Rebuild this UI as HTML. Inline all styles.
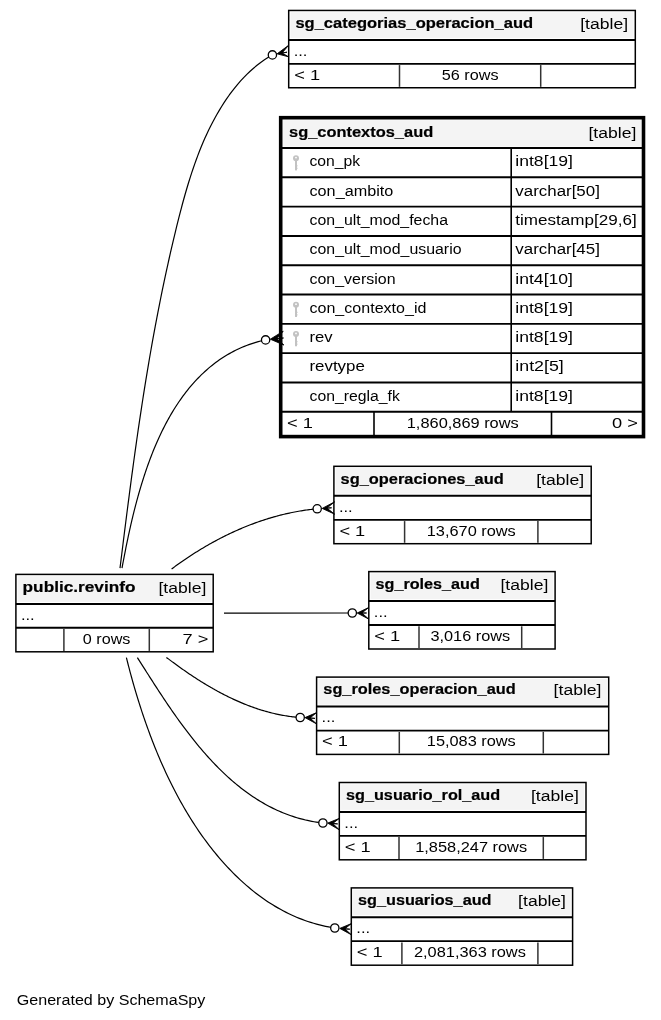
<!DOCTYPE html>
<html><head><meta charset="utf-8"><style>
html,body{margin:0;padding:0;background:#fff;width:661px;height:1020px;overflow:hidden}
svg{display:block;will-change:transform}
text{font-family:"Liberation Sans",sans-serif;font-size:15.5px;fill:#000}
</style></head><body>
<svg width="661" height="1020" viewBox="0 0 661 1020">
<rect width="661" height="1020" fill="#fff"/>
<path d="M120.00,568.10 L120.58,563.47 L121.15,558.84 L121.73,554.22 L122.30,549.60 L122.88,544.98 L123.45,540.37 L124.03,535.77 L124.61,531.16 L125.19,526.57 L125.77,521.97 L126.36,517.38 L126.94,512.79 L127.53,508.21 L128.12,503.63 L128.72,499.05 L129.31,494.47 L129.91,489.90 L130.52,485.33 L131.12,480.77 L131.73,476.20 L132.35,471.64 L132.97,467.09 L133.59,462.53 L134.21,457.98 L134.85,453.43 L135.48,448.88 L136.12,444.34 L136.77,439.79 L137.42,435.25 L138.08,430.71 L138.74,426.18 L139.41,421.64 L140.09,417.11 L140.77,412.57 L141.46,408.04 L142.15,403.51 L142.85,398.98 L143.56,394.46 L144.28,389.93 L145.00,385.41 L145.73,380.88 L146.47,376.36 L147.22,371.84 L147.98,367.31 L148.74,362.79 L149.51,358.27 L150.29,353.75 L151.08,349.23 L151.88,344.71 L152.69,340.19 L153.51,335.67 L154.34,331.15 L155.18,326.63 L156.03,322.11 L156.89,317.59 L157.76,313.07 L158.64,308.55 L159.53,304.03 L160.43,299.50 L161.35,294.98 L162.27,290.46 L163.21,285.93 L164.16,281.40 L165.12,276.88 L166.09,272.35 L167.08,267.82 L168.08,263.29 L169.09,258.75 L170.12,254.22 L171.15,249.68 L172.21,245.14 L173.27,240.60 L174.35,236.06 L175.44,231.52 L176.55,226.97 L177.67,222.42 L178.81,217.88 L179.97,213.33 L181.16,208.79 L182.36,204.26 L183.60,199.74 L184.86,195.22 L186.15,190.72 L187.48,186.24 L188.84,181.76 L190.23,177.31 L191.67,172.88 L193.15,168.47 L194.67,164.08 L196.24,159.72 L197.86,155.39 L199.52,151.08 L201.24,146.81 L203.01,142.57 L204.84,138.36 L206.73,134.20 L208.68,130.07 L210.69,125.98 L212.77,121.94 L214.92,117.94 L217.13,113.98 L219.42,110.08 L221.78,106.22 L224.22,102.42 L226.73,98.68 L229.33,94.98 L232.01,91.36 L234.78,87.80 L237.64,84.31 L240.60,80.91 L243.67,77.59 L246.84,74.37 L250.12,71.24 L253.52,68.22 L257.03,65.31 L260.68,62.51 L264.45,59.84 L268.35,57.30 L272.40,54.89" fill="none" stroke="#000" stroke-width="1.2" stroke-linejoin="round"/>
<circle cx="272.40" cy="54.90" r="4.15" fill="#fff" stroke="#000" stroke-width="1.3"/>
<polygon points="277.10,53.85 288.60,45.30 282.05,53.03 287.00,52.20 282.05,53.03 288.60,56.80" fill="#000" stroke="#000" stroke-width="0.9" stroke-linejoin="miter"/>
<path d="M122.00,568.10 L122.41,565.91 L122.82,563.71 L123.24,561.50 L123.66,559.27 L124.09,557.04 L124.52,554.79 L124.97,552.53 L125.42,550.26 L125.87,547.98 L126.33,545.69 L126.80,543.39 L127.28,541.08 L127.77,538.76 L128.26,536.44 L128.76,534.11 L129.27,531.77 L129.79,529.42 L130.32,527.07 L130.86,524.71 L131.40,522.35 L131.96,519.98 L132.52,517.61 L133.10,515.23 L133.68,512.86 L134.28,510.47 L134.88,508.09 L135.50,505.70 L136.12,503.32 L136.76,500.93 L137.41,498.54 L138.07,496.15 L138.74,493.76 L139.43,491.37 L140.12,488.98 L140.83,486.60 L141.55,484.21 L142.29,481.83 L143.04,479.46 L143.80,477.08 L144.57,474.71 L145.36,472.35 L146.16,469.99 L146.97,467.63 L147.80,465.28 L148.64,462.94 L149.50,460.60 L150.38,458.27 L151.26,455.95 L152.17,453.64 L153.09,451.33 L154.02,449.04 L154.97,446.75 L155.94,444.48 L156.92,442.21 L157.92,439.96 L158.93,437.71 L159.97,435.48 L161.02,433.26 L162.08,431.06 L163.17,428.86 L164.27,426.68 L165.39,424.52 L166.53,422.37 L167.69,420.23 L168.86,418.11 L170.06,416.01 L171.27,413.92 L172.50,411.85 L173.76,409.79 L175.03,407.76 L176.32,405.74 L177.63,403.74 L178.96,401.76 L180.32,399.80 L181.69,397.86 L183.08,395.94 L184.50,394.04 L185.93,392.17 L187.39,390.31 L188.87,388.48 L190.37,386.67 L191.90,384.88 L193.44,383.12 L195.01,381.38 L196.60,379.67 L198.21,377.98 L199.85,376.32 L201.51,374.68 L203.20,373.07 L204.90,371.49 L206.64,369.93 L208.39,368.40 L210.17,366.90 L211.98,365.43 L213.81,364.00 L215.66,362.59 L217.54,361.21 L219.45,359.86 L221.38,358.55 L223.33,357.27 L225.31,356.02 L227.32,354.80 L229.36,353.62 L231.42,352.48 L233.50,351.37 L235.62,350.29 L237.76,349.26 L239.92,348.26 L242.12,347.30 L244.34,346.37 L246.59,345.49 L248.87,344.64 L251.17,343.84 L253.51,343.08 L255.87,342.35 L258.26,341.67 L260.68,341.04 L263.13,340.44 L265.60,339.89" fill="none" stroke="#000" stroke-width="1.2" stroke-linejoin="round"/>
<circle cx="265.60" cy="339.90" r="4.15" fill="#fff" stroke="#000" stroke-width="1.3"/>
<polygon points="270.30,339.20 283.20,331.20 276.90,338.60 283.50,338.00 276.90,338.60 283.90,345.00" fill="#000" stroke="#000" stroke-width="0.9" stroke-linejoin="miter"/>
<path d="M171.60,569.00 L172.67,568.20 L173.74,567.41 L174.81,566.63 L175.88,565.84 L176.96,565.06 L178.05,564.28 L179.13,563.51 L180.22,562.74 L181.32,561.97 L182.41,561.21 L183.51,560.45 L184.62,559.70 L185.72,558.94 L186.83,558.20 L187.94,557.45 L189.06,556.71 L190.18,555.98 L191.30,555.24 L192.43,554.51 L193.55,553.79 L194.69,553.07 L195.82,552.35 L196.96,551.64 L198.10,550.93 L199.24,550.23 L200.39,549.53 L201.54,548.84 L202.69,548.14 L203.85,547.46 L205.00,546.78 L206.17,546.10 L207.33,545.43 L208.50,544.76 L209.67,544.09 L210.84,543.44 L212.01,542.78 L213.19,542.13 L214.37,541.49 L215.56,540.85 L216.74,540.21 L217.93,539.58 L219.12,538.96 L220.32,538.33 L221.51,537.72 L222.71,537.11 L223.91,536.50 L225.12,535.90 L226.33,535.31 L227.54,534.72 L228.75,534.13 L229.96,533.56 L231.18,532.98 L232.40,532.41 L233.62,531.85 L234.84,531.29 L236.07,530.74 L237.30,530.19 L238.53,529.65 L239.76,529.12 L241.00,528.59 L242.24,528.06 L243.48,527.54 L244.72,527.03 L245.96,526.52 L247.21,526.02 L248.46,525.53 L249.71,525.04 L250.96,524.56 L252.22,524.08 L253.48,523.61 L254.74,523.14 L256.00,522.69 L257.26,522.23 L258.53,521.79 L259.79,521.35 L261.06,520.91 L262.33,520.48 L263.61,520.06 L264.88,519.65 L266.16,519.24 L267.44,518.84 L268.72,518.44 L270.00,518.06 L271.28,517.67 L272.57,517.30 L273.86,516.93 L275.15,516.57 L276.44,516.21 L277.73,515.87 L279.03,515.52 L280.32,515.19 L281.62,514.86 L282.92,514.54 L284.22,514.23 L285.52,513.92 L286.83,513.62 L288.13,513.33 L289.44,513.05 L290.75,512.77 L292.06,512.50 L293.37,512.23 L294.68,511.98 L296.00,511.73 L297.31,511.49 L298.63,511.26 L299.95,511.03 L301.27,510.81 L302.59,510.60 L303.91,510.40 L305.24,510.20 L306.56,510.02 L307.89,509.84 L309.21,509.66 L310.54,509.50 L311.87,509.34 L313.20,509.20 L314.53,509.05 L315.87,508.92 L317.20,508.80" fill="none" stroke="#000" stroke-width="1.2" stroke-linejoin="round"/>
<circle cx="317.20" cy="508.80" r="4.15" fill="#fff" stroke="#000" stroke-width="1.3"/>
<polygon points="322.20,508.40 334.70,501.80 326.90,508.10 331.60,507.80 326.90,508.10 334.70,514.20" fill="#000" stroke="#000" stroke-width="0.9" stroke-linejoin="miter"/>
<path d="M224.00,613.10 L352.30,613.00" fill="none" stroke="#000" stroke-width="1.2"/>
<circle cx="352.30" cy="613.00" r="4.15" fill="#fff" stroke="#000" stroke-width="1.3"/>
<polygon points="357.20,613.00 368.60,607.60 361.90,613.00 366.60,613.00 361.90,613.00 368.60,619.00" fill="#000" stroke="#000" stroke-width="0.9" stroke-linejoin="miter"/>
<path d="M166.40,657.40 L167.38,658.15 L168.37,658.89 L169.36,659.64 L170.35,660.38 L171.35,661.12 L172.34,661.86 L173.34,662.60 L174.34,663.33 L175.35,664.07 L176.35,664.80 L177.36,665.53 L178.37,666.26 L179.39,666.99 L180.40,667.71 L181.42,668.43 L182.44,669.15 L183.47,669.87 L184.49,670.59 L185.52,671.30 L186.55,672.01 L187.59,672.72 L188.62,673.42 L189.66,674.13 L190.70,674.82 L191.74,675.52 L192.79,676.22 L193.84,676.91 L194.89,677.59 L195.94,678.28 L197.00,678.96 L198.05,679.64 L199.11,680.31 L200.18,680.98 L201.24,681.65 L202.31,682.31 L203.38,682.97 L204.45,683.63 L205.52,684.28 L206.60,684.93 L207.68,685.57 L208.76,686.21 L209.85,686.85 L210.93,687.48 L212.02,688.10 L213.11,688.73 L214.21,689.35 L215.30,689.96 L216.40,690.57 L217.50,691.17 L218.60,691.77 L219.71,692.37 L220.82,692.96 L221.93,693.54 L223.04,694.12 L224.15,694.70 L225.27,695.27 L226.39,695.83 L227.51,696.39 L228.63,696.94 L229.76,697.49 L230.89,698.04 L232.02,698.57 L233.15,699.10 L234.29,699.63 L235.43,700.15 L236.57,700.66 L237.71,701.17 L238.85,701.67 L240.00,702.17 L241.15,702.66 L242.30,703.14 L243.45,703.62 L244.61,704.09 L245.77,704.55 L246.93,705.01 L248.09,705.46 L249.26,705.90 L250.42,706.34 L251.59,706.77 L252.77,707.19 L253.94,707.61 L255.12,708.02 L256.30,708.42 L257.48,708.82 L258.66,709.20 L259.84,709.58 L261.03,709.96 L262.22,710.32 L263.41,710.68 L264.61,711.03 L265.81,711.37 L267.00,711.70 L268.21,712.03 L269.41,712.35 L270.61,712.66 L271.82,712.96 L273.03,713.26 L274.24,713.54 L275.46,713.82 L276.67,714.09 L277.89,714.35 L279.11,714.60 L280.34,714.84 L281.56,715.08 L282.79,715.30 L284.02,715.52 L285.25,715.73 L286.48,715.93 L287.72,716.12 L288.96,716.30 L290.20,716.47 L291.44,716.63 L292.69,716.78 L293.93,716.93 L295.18,717.06 L296.43,717.19 L297.69,717.30 L298.94,717.41 L300.20,717.50" fill="none" stroke="#000" stroke-width="1.2" stroke-linejoin="round"/>
<circle cx="300.20" cy="717.50" r="4.15" fill="#fff" stroke="#000" stroke-width="1.3"/>
<polygon points="305.00,717.60 316.60,712.60 310.00,718.00 315.00,718.40 310.00,718.00 316.60,723.90" fill="#000" stroke="#000" stroke-width="0.9" stroke-linejoin="miter"/>
<path d="M137.40,657.60 L138.50,659.34 L139.61,661.09 L140.73,662.85 L141.84,664.61 L142.96,666.38 L144.09,668.15 L145.22,669.93 L146.35,671.71 L147.49,673.50 L148.63,675.29 L149.78,677.09 L150.93,678.89 L152.09,680.69 L153.25,682.50 L154.41,684.31 L155.59,686.12 L156.76,687.93 L157.95,689.75 L159.14,691.57 L160.33,693.39 L161.53,695.20 L162.73,697.02 L163.94,698.84 L165.16,700.66 L166.39,702.48 L167.61,704.30 L168.85,706.11 L170.09,707.93 L171.34,709.74 L172.60,711.55 L173.86,713.36 L175.13,715.16 L176.40,716.97 L177.68,718.76 L178.97,720.56 L180.27,722.35 L181.57,724.13 L182.89,725.91 L184.20,727.69 L185.53,729.46 L186.87,731.22 L188.21,732.98 L189.56,734.73 L190.91,736.47 L192.28,738.21 L193.65,739.93 L195.04,741.65 L196.43,743.37 L197.83,745.07 L199.24,746.77 L200.65,748.45 L202.08,750.13 L203.51,751.79 L204.95,753.45 L206.41,755.09 L207.87,756.73 L209.34,758.35 L210.82,759.96 L212.31,761.56 L213.81,763.15 L215.32,764.72 L216.84,766.28 L218.37,767.83 L219.91,769.36 L221.45,770.88 L223.01,772.39 L224.58,773.88 L226.16,775.36 L227.75,776.82 L229.35,778.26 L230.97,779.69 L232.59,781.11 L234.22,782.50 L235.87,783.88 L237.52,785.24 L239.19,786.59 L240.87,787.92 L242.56,789.22 L244.26,790.51 L245.97,791.79 L247.69,793.04 L249.43,794.27 L251.18,795.48 L252.94,796.67 L254.71,797.84 L256.50,798.99 L258.29,800.12 L260.10,801.23 L261.92,802.31 L263.76,803.38 L265.61,804.42 L267.47,805.44 L269.34,806.43 L271.22,807.40 L273.12,808.35 L275.04,809.27 L276.96,810.17 L278.90,811.04 L280.85,811.89 L282.82,812.71 L284.80,813.50 L286.79,814.27 L288.80,815.01 L290.82,815.73 L292.86,816.42 L294.91,817.08 L296.97,817.71 L299.05,818.32 L301.14,818.89 L303.25,819.44 L305.38,819.96 L307.51,820.44 L309.67,820.90 L311.83,821.33 L314.02,821.73 L316.21,822.09 L318.43,822.43 L320.66,822.73 L322.90,823.00" fill="none" stroke="#000" stroke-width="1.2" stroke-linejoin="round"/>
<circle cx="322.90" cy="823.00" r="4.15" fill="#fff" stroke="#000" stroke-width="1.3"/>
<polygon points="327.70,823.10 339.30,818.40 332.70,823.50 337.70,823.90 332.70,823.50 339.30,829.80" fill="#000" stroke="#000" stroke-width="0.9" stroke-linejoin="miter"/>
<path d="M126.40,657.60 L127.10,660.42 L127.82,663.25 L128.55,666.09 L129.30,668.93 L130.05,671.78 L130.82,674.63 L131.61,677.49 L132.40,680.35 L133.21,683.22 L134.03,686.10 L134.87,688.97 L135.72,691.85 L136.58,694.74 L137.46,697.62 L138.35,700.51 L139.26,703.40 L140.18,706.29 L141.11,709.18 L142.06,712.07 L143.03,714.96 L144.01,717.85 L145.00,720.74 L146.01,723.63 L147.04,726.52 L148.08,729.41 L149.14,732.29 L150.21,735.17 L151.30,738.05 L152.40,740.92 L153.52,743.79 L154.66,746.66 L155.81,749.52 L156.98,752.37 L158.17,755.22 L159.37,758.06 L160.59,760.90 L161.83,763.73 L163.09,766.55 L164.36,769.37 L165.65,772.17 L166.96,774.97 L168.28,777.76 L169.63,780.54 L170.99,783.31 L172.37,786.07 L173.77,788.82 L175.19,791.56 L176.62,794.29 L178.08,797.00 L179.55,799.70 L181.04,802.40 L182.55,805.07 L184.09,807.74 L185.64,810.39 L187.21,813.02 L188.80,815.64 L190.41,818.25 L192.04,820.84 L193.69,823.41 L195.36,825.97 L197.05,828.51 L198.76,831.04 L200.50,833.55 L202.25,836.04 L204.02,838.51 L205.82,840.96 L207.64,843.39 L209.47,845.80 L211.34,848.20 L213.22,850.57 L215.12,852.92 L217.05,855.25 L218.99,857.56 L220.96,859.85 L222.96,862.11 L224.97,864.36 L227.01,866.58 L229.07,868.77 L231.15,870.94 L233.26,873.09 L235.39,875.20 L237.54,877.29 L239.72,879.36 L241.92,881.39 L244.14,883.40 L246.39,885.37 L248.66,887.31 L250.96,889.22 L253.28,891.10 L255.62,892.95 L257.99,894.76 L260.38,896.53 L262.80,898.27 L265.25,899.97 L267.71,901.63 L270.21,903.25 L272.73,904.84 L275.27,906.38 L277.84,907.89 L280.43,909.35 L283.06,910.76 L285.70,912.14 L288.38,913.47 L291.08,914.75 L293.80,915.99 L296.55,917.18 L299.33,918.32 L302.14,919.42 L304.97,920.46 L307.83,921.46 L310.72,922.40 L313.63,923.29 L316.57,924.13 L319.54,924.92 L322.54,925.65 L325.56,926.32 L328.61,926.94 L331.69,927.50 L334.80,928.01" fill="none" stroke="#000" stroke-width="1.2" stroke-linejoin="round"/>
<circle cx="334.80" cy="928.00" r="4.15" fill="#fff" stroke="#000" stroke-width="1.3"/>
<polygon points="339.80,928.40 351.40,923.60 344.80,928.80 349.80,929.20 344.80,928.80 351.40,934.80" fill="#000" stroke="#000" stroke-width="0.9" stroke-linejoin="miter"/>
<rect x="290.50" y="12.25" width="343.00" height="25.65" fill="#f4f4f4"/>
<rect x="288.70" y="10.45" width="346.60" height="77.30" fill="none" stroke="#000" stroke-width="1.5"/>
<line x1="288.70" y1="39.90" x2="635.30" y2="39.90" stroke="#000" stroke-width="2.0"/>
<line x1="288.70" y1="63.80" x2="635.30" y2="63.80" stroke="#000" stroke-width="1.8"/>
<line x1="399.50" y1="65.10" x2="399.50" y2="86.85" stroke="#333" stroke-width="1.5"/>
<line x1="540.70" y1="65.10" x2="540.70" y2="86.85" stroke="#333" stroke-width="1.5"/>
<text x="295.40" y="27.75" textLength="237.74" lengthAdjust="spacingAndGlyphs" font-weight="bold" stroke="#000" stroke-width="0.2">sg_categorias_operacion_aud</text>
<text x="580.23" y="28.75" textLength="47.87" lengthAdjust="spacingAndGlyphs">[table]</text>
<text x="293.70" y="55.60" textLength="13.78" lengthAdjust="spacingAndGlyphs">...</text>
<text x="294.20" y="80.20" textLength="25.89" lengthAdjust="spacingAndGlyphs">&lt; 1</text>
<text x="441.71" y="80.20" textLength="56.79" lengthAdjust="spacingAndGlyphs">56 rows</text>
<rect x="335.70" y="468.10" width="253.70" height="25.60" fill="#f4f4f4"/>
<rect x="333.90" y="466.30" width="257.30" height="77.40" fill="none" stroke="#000" stroke-width="1.5"/>
<line x1="333.90" y1="495.70" x2="591.20" y2="495.70" stroke="#000" stroke-width="2.0"/>
<line x1="333.90" y1="519.80" x2="591.20" y2="519.80" stroke="#000" stroke-width="1.8"/>
<line x1="404.60" y1="521.10" x2="404.60" y2="542.80" stroke="#333" stroke-width="1.5"/>
<line x1="537.90" y1="521.10" x2="537.90" y2="542.80" stroke="#333" stroke-width="1.5"/>
<text x="340.60" y="483.90" textLength="163.09" lengthAdjust="spacingAndGlyphs" font-weight="bold" stroke="#000" stroke-width="0.2">sg_operaciones_aud</text>
<text x="536.23" y="484.90" textLength="47.87" lengthAdjust="spacingAndGlyphs">[table]</text>
<text x="338.90" y="511.80" textLength="13.78" lengthAdjust="spacingAndGlyphs">...</text>
<text x="339.40" y="536.20" textLength="25.89" lengthAdjust="spacingAndGlyphs">&lt; 1</text>
<text x="426.77" y="536.20" textLength="88.97" lengthAdjust="spacingAndGlyphs">13,670 rows</text>
<rect x="370.60" y="573.40" width="182.70" height="25.70" fill="#f4f4f4"/>
<rect x="368.80" y="571.60" width="186.30" height="77.40" fill="none" stroke="#000" stroke-width="1.5"/>
<line x1="368.80" y1="601.10" x2="555.10" y2="601.10" stroke="#000" stroke-width="2.0"/>
<line x1="368.80" y1="625.00" x2="555.10" y2="625.00" stroke="#000" stroke-width="1.8"/>
<line x1="419.00" y1="626.30" x2="419.00" y2="648.10" stroke="#333" stroke-width="1.5"/>
<line x1="521.70" y1="626.30" x2="521.70" y2="648.10" stroke="#333" stroke-width="1.5"/>
<text x="375.50" y="588.75" textLength="104.33" lengthAdjust="spacingAndGlyphs" font-weight="bold" stroke="#000" stroke-width="0.2">sg_roles_aud</text>
<text x="500.43" y="589.75" textLength="47.87" lengthAdjust="spacingAndGlyphs">[table]</text>
<text x="373.80" y="616.80" textLength="13.78" lengthAdjust="spacingAndGlyphs">...</text>
<text x="374.30" y="641.20" textLength="25.89" lengthAdjust="spacingAndGlyphs">&lt; 1</text>
<text x="430.46" y="641.20" textLength="79.77" lengthAdjust="spacingAndGlyphs">3,016 rows</text>
<rect x="318.40" y="678.90" width="288.50" height="25.70" fill="#f4f4f4"/>
<rect x="316.60" y="677.10" width="292.10" height="77.30" fill="none" stroke="#000" stroke-width="1.5"/>
<line x1="316.60" y1="706.60" x2="608.70" y2="706.60" stroke="#000" stroke-width="2.0"/>
<line x1="316.60" y1="730.60" x2="608.70" y2="730.60" stroke="#000" stroke-width="1.8"/>
<line x1="399.30" y1="731.90" x2="399.30" y2="753.50" stroke="#333" stroke-width="1.5"/>
<line x1="543.30" y1="731.90" x2="543.30" y2="753.50" stroke="#333" stroke-width="1.5"/>
<text x="323.30" y="693.70" textLength="192.36" lengthAdjust="spacingAndGlyphs" font-weight="bold" stroke="#000" stroke-width="0.2">sg_roles_operacion_aud</text>
<text x="553.63" y="694.70" textLength="47.87" lengthAdjust="spacingAndGlyphs">[table]</text>
<text x="321.60" y="722.00" textLength="13.78" lengthAdjust="spacingAndGlyphs">...</text>
<text x="322.10" y="746.10" textLength="25.89" lengthAdjust="spacingAndGlyphs">&lt; 1</text>
<text x="426.82" y="746.10" textLength="88.97" lengthAdjust="spacingAndGlyphs">15,083 rows</text>
<rect x="341.10" y="784.30" width="243.10" height="25.60" fill="#f4f4f4"/>
<rect x="339.30" y="782.50" width="246.70" height="77.30" fill="none" stroke="#000" stroke-width="1.5"/>
<line x1="339.30" y1="811.90" x2="586.00" y2="811.90" stroke="#000" stroke-width="2.0"/>
<line x1="339.30" y1="835.80" x2="586.00" y2="835.80" stroke="#000" stroke-width="1.8"/>
<line x1="399.00" y1="837.10" x2="399.00" y2="858.90" stroke="#333" stroke-width="1.5"/>
<line x1="543.30" y1="837.10" x2="543.30" y2="858.90" stroke="#333" stroke-width="1.5"/>
<text x="346.00" y="799.75" textLength="154.16" lengthAdjust="spacingAndGlyphs" font-weight="bold" stroke="#000" stroke-width="0.2">sg_usuario_rol_aud</text>
<text x="530.93" y="800.75" textLength="47.87" lengthAdjust="spacingAndGlyphs">[table]</text>
<text x="344.30" y="827.60" textLength="13.78" lengthAdjust="spacingAndGlyphs">...</text>
<text x="344.80" y="852.20" textLength="25.89" lengthAdjust="spacingAndGlyphs">&lt; 1</text>
<text x="415.18" y="852.20" textLength="111.95" lengthAdjust="spacingAndGlyphs">1,858,247 rows</text>
<rect x="353.10" y="889.70" width="217.70" height="25.45" fill="#f4f4f4"/>
<rect x="351.30" y="887.90" width="221.30" height="77.30" fill="none" stroke="#000" stroke-width="1.5"/>
<line x1="351.30" y1="917.15" x2="572.60" y2="917.15" stroke="#000" stroke-width="2.0"/>
<line x1="351.30" y1="941.20" x2="572.60" y2="941.20" stroke="#000" stroke-width="1.8"/>
<line x1="401.90" y1="942.50" x2="401.90" y2="964.30" stroke="#333" stroke-width="1.5"/>
<line x1="537.90" y1="942.50" x2="537.90" y2="964.30" stroke="#333" stroke-width="1.5"/>
<text x="358.00" y="904.75" textLength="133.50" lengthAdjust="spacingAndGlyphs" font-weight="bold" stroke="#000" stroke-width="0.2">sg_usuarios_aud</text>
<text x="518.13" y="905.75" textLength="47.87" lengthAdjust="spacingAndGlyphs">[table]</text>
<text x="356.30" y="932.60" textLength="13.78" lengthAdjust="spacingAndGlyphs">...</text>
<text x="356.80" y="957.20" textLength="25.89" lengthAdjust="spacingAndGlyphs">&lt; 1</text>
<text x="413.93" y="957.20" textLength="111.95" lengthAdjust="spacingAndGlyphs">2,081,363 rows</text>
<rect x="17.70" y="576.20" width="193.70" height="25.70" fill="#f4f4f4"/>
<rect x="15.90" y="574.40" width="197.30" height="77.40" fill="none" stroke="#000" stroke-width="1.5"/>
<line x1="15.90" y1="603.90" x2="213.20" y2="603.90" stroke="#000" stroke-width="2.0"/>
<line x1="15.90" y1="627.75" x2="213.20" y2="627.75" stroke="#000" stroke-width="1.8"/>
<line x1="63.90" y1="629.05" x2="63.90" y2="650.90" stroke="#333" stroke-width="1.5"/>
<line x1="149.30" y1="629.05" x2="149.30" y2="650.90" stroke="#333" stroke-width="1.5"/>
<text x="22.60" y="591.75" textLength="112.89" lengthAdjust="spacingAndGlyphs" font-weight="bold" stroke="#000" stroke-width="0.2">public.revinfo</text>
<text x="158.43" y="592.75" textLength="47.87" lengthAdjust="spacingAndGlyphs">[table]</text>
<text x="20.90" y="619.60" textLength="13.78" lengthAdjust="spacingAndGlyphs">...</text>
<text x="82.80" y="644.10" textLength="47.60" lengthAdjust="spacingAndGlyphs">0 rows</text>
<text x="182.41" y="644.10" textLength="25.89" lengthAdjust="spacingAndGlyphs">7 &gt;</text>
<rect x="283.20" y="120.20" width="357.80" height="26.30" fill="#f4f4f4"/>
<line x1="280.70" y1="148.00" x2="643.50" y2="148.00" stroke="#000" stroke-width="1.9"/>
<line x1="280.70" y1="177.31" x2="643.50" y2="177.31" stroke="#000" stroke-width="1.9"/>
<line x1="280.70" y1="206.62" x2="643.50" y2="206.62" stroke="#000" stroke-width="1.9"/>
<line x1="280.70" y1="235.93" x2="643.50" y2="235.93" stroke="#000" stroke-width="1.9"/>
<line x1="280.70" y1="265.24" x2="643.50" y2="265.24" stroke="#000" stroke-width="1.9"/>
<line x1="280.70" y1="294.55" x2="643.50" y2="294.55" stroke="#000" stroke-width="1.9"/>
<line x1="280.70" y1="323.86" x2="643.50" y2="323.86" stroke="#000" stroke-width="1.9"/>
<line x1="280.70" y1="353.17" x2="643.50" y2="353.17" stroke="#000" stroke-width="1.9"/>
<line x1="280.70" y1="382.48" x2="643.50" y2="382.48" stroke="#000" stroke-width="1.9"/>
<line x1="280.70" y1="411.79" x2="643.50" y2="411.79" stroke="#000" stroke-width="1.9"/>
<line x1="511.20" y1="148.00" x2="511.20" y2="411.79" stroke="#000" stroke-width="1.6"/>
<line x1="374.00" y1="411.79" x2="374.00" y2="436.60" stroke="#000" stroke-width="1.6"/>
<line x1="551.50" y1="411.79" x2="551.50" y2="436.60" stroke="#000" stroke-width="1.6"/>
<rect x="280.70" y="117.70" width="362.80" height="318.90" fill="none" stroke="#000" stroke-width="3.6"/>
<text x="289.00" y="136.60" textLength="144.22" lengthAdjust="spacingAndGlyphs" font-weight="bold" stroke="#000" stroke-width="0.2">sg_contextos_aud</text>
<text x="588.43" y="137.50" textLength="47.87" lengthAdjust="spacingAndGlyphs">[table]</text>
<text x="309.50" y="166.30" textLength="50.71" lengthAdjust="spacingAndGlyphs">con_pk</text>
<text x="515.30" y="166.30" textLength="57.69" lengthAdjust="spacingAndGlyphs">int8[19]</text>
<g fill="#c2c2c2"><circle cx="296.00" cy="158.20" r="3.0"/><rect x="295.00" y="159.60" width="2.0" height="10.8"/><rect x="296.80" y="165.20" width="0.7" height="1.2"/><rect x="296.80" y="167.70" width="0.7" height="1.2"/></g>
<circle cx="296.00" cy="157.60" r="0.9" fill="#fff"/>
<text x="309.50" y="195.61" textLength="83.79" lengthAdjust="spacingAndGlyphs">con_ambito</text>
<text x="515.30" y="195.61" textLength="84.59" lengthAdjust="spacingAndGlyphs">varchar[50]</text>
<text x="309.50" y="224.92" textLength="138.48" lengthAdjust="spacingAndGlyphs">con_ult_mod_fecha</text>
<text x="515.30" y="224.92" textLength="121.39" lengthAdjust="spacingAndGlyphs">timestamp[29,6]</text>
<text x="309.50" y="254.23" textLength="152.04" lengthAdjust="spacingAndGlyphs">con_ult_mod_usuario</text>
<text x="515.30" y="254.23" textLength="84.59" lengthAdjust="spacingAndGlyphs">varchar[45]</text>
<text x="309.50" y="283.54" textLength="86.09" lengthAdjust="spacingAndGlyphs">con_version</text>
<text x="515.30" y="283.54" textLength="57.69" lengthAdjust="spacingAndGlyphs">int4[10]</text>
<text x="309.50" y="312.85" textLength="116.88" lengthAdjust="spacingAndGlyphs">con_contexto_id</text>
<text x="515.30" y="312.85" textLength="57.69" lengthAdjust="spacingAndGlyphs">int8[19]</text>
<g fill="#c2c2c2"><circle cx="296.00" cy="304.75" r="3.0"/><rect x="295.00" y="306.15" width="2.0" height="10.8"/><rect x="296.80" y="311.75" width="0.7" height="1.2"/><rect x="296.80" y="314.25" width="0.7" height="1.2"/></g>
<circle cx="296.00" cy="304.15" r="0.9" fill="#fff"/>
<text x="309.50" y="342.16" textLength="23.07" lengthAdjust="spacingAndGlyphs">rev</text>
<text x="515.30" y="342.16" textLength="57.69" lengthAdjust="spacingAndGlyphs">int8[19]</text>
<g fill="#c2c2c2"><circle cx="296.00" cy="334.06" r="3.0"/><rect x="295.00" y="335.46" width="2.0" height="10.8"/><rect x="296.80" y="341.06" width="0.7" height="1.2"/><rect x="296.80" y="343.56" width="0.7" height="1.2"/></g>
<circle cx="296.00" cy="333.46" r="0.9" fill="#fff"/>
<text x="309.50" y="371.47" textLength="55.34" lengthAdjust="spacingAndGlyphs">revtype</text>
<text x="515.30" y="371.47" textLength="48.50" lengthAdjust="spacingAndGlyphs">int2[5]</text>
<text x="309.50" y="400.78" textLength="90.40" lengthAdjust="spacingAndGlyphs">con_regla_fk</text>
<text x="515.30" y="400.78" textLength="57.69" lengthAdjust="spacingAndGlyphs">int8[19]</text>
<text x="287.10" y="427.70" textLength="25.89" lengthAdjust="spacingAndGlyphs">&lt; 1</text>
<text x="406.78" y="427.70" textLength="111.95" lengthAdjust="spacingAndGlyphs">1,860,869 rows</text>
<text x="612.11" y="427.70" textLength="25.89" lengthAdjust="spacingAndGlyphs">0 &gt;</text>
<text x="16.80" y="1004.80" textLength="188.56" lengthAdjust="spacingAndGlyphs">Generated by SchemaSpy</text>
</svg></body></html>
